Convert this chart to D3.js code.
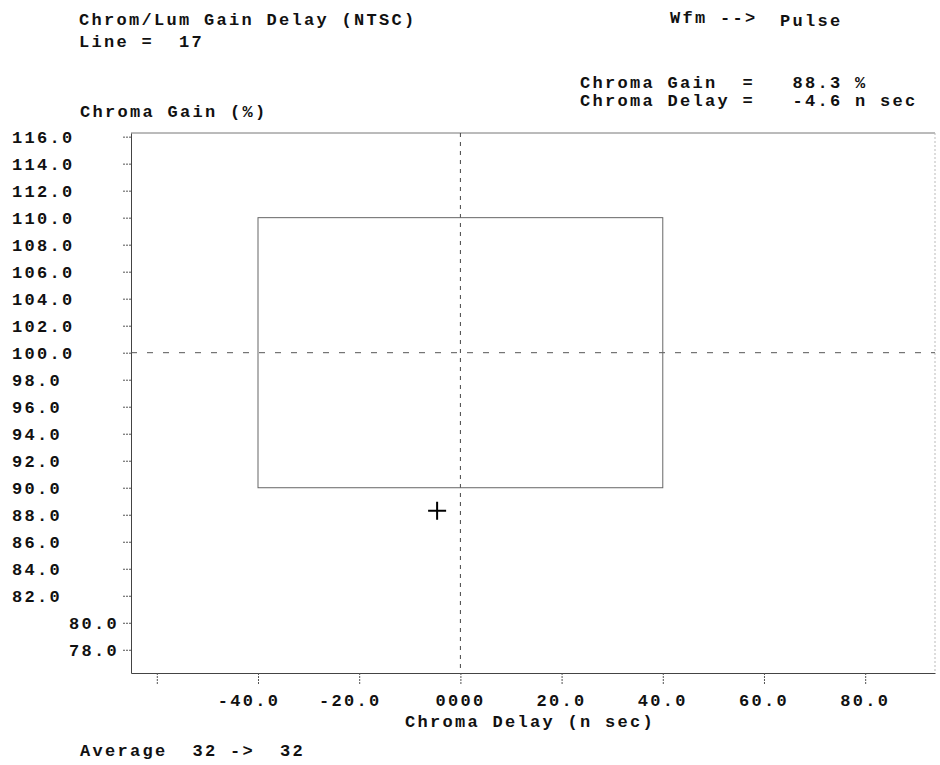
<!DOCTYPE html>
<html><head><meta charset="utf-8">
<script src="https://cdn.jsdelivr.net/npm/d3@7"></script>
<style>
html,body{margin:0;padding:0;background:#fff;}
svg{display:block;}
text{font-family:"Liberation Mono","DejaVu Sans Mono",monospace;font-weight:bold;font-size:17px;letter-spacing:2.3px;fill:#111;white-space:pre;}
</style></head><body>
<svg id="chart" width="940" height="765"></svg>
<script>
// ---- data ----
const titleLines = ["Chrom/Lum Gain Delay (NTSC)", "Line =  17"];
const waveformText = ["Wfm -->", "Pulse"];
const readoutLines = ["Chroma Gain  =   88.3 %", "Chroma Delay =   -4.6 n sec"];
const yAxisTitle = "Chroma Gain (%)";
const xAxisTitle = "Chroma Delay (n sec)";
const footerText = "Average  32 ->  32";

const yTickValues = [116,114,112,110,108,106,104,102,100,98,96,94,92,90,88,86,84,82,80,78];
const yTickLabels = ["116.0","114.0","112.0","110.0","108.0","106.0","104.0","102.0","100.0","98.0","96.0","94.0","92.0","90.0","88.0","86.0","84.0","82.0","80.0","78.0"];
const xTickValues = [-60,-40,-20,0,20,40,60,80];
const xTickLabels = ["","-40.0","-20.0","0000","20.0","40.0","60.0","80.0"];

const limitDelay = [-40, 40];
const limitGain = [90, 110];
const referenceDelay = [0];
const referenceGain = [100];
const measuredDelay = [-4.6];
const measuredGain = [88.3];

// ---- layout ----
const svg = d3.select("#chart");
const plot = {left:131, right:935, top:133, bottom:673};
const x = d3.scaleLinear().domain([-65.1, 93.8]).range([plot.left, plot.right]);
const y = d3.scaleLinear().domain([76.28, 116.27]).range([plot.bottom, plot.top]);

// header texts
svg.selectAll("text.title").data(titleLines).join("text")
  .attr("class","title").attr("x",79).attr("y",(d,i)=>25+i*22).text(d=>d);
svg.append("text").attr("x",670).attr("y",23).text(waveformText[0]);
svg.append("text").attr("x",780).attr("y",26).text(waveformText[1]);
svg.selectAll("text.readout").data(readoutLines).join("text")
  .attr("class","readout").attr("x",580).attr("y",(d,i)=>88+i*18).text(d=>d);
svg.append("text").attr("x",80).attr("y",117).text(yAxisTitle);

// frame top / right
svg.append("line").attr("x1",plot.left).attr("x2",plot.right).attr("y1",plot.top).attr("y2",plot.top)
  .attr("stroke","#777").attr("stroke-width",1);
svg.append("line").attr("x1",plot.right).attr("x2",plot.right).attr("y1",plot.top).attr("y2",plot.bottom)
  .attr("stroke","#bbb").attr("stroke-width",1).attr("stroke-dasharray","2,2");

// axes (tick marks + left/bottom frame)
const yAxis = d3.axisLeft(y).tickValues(yTickValues).tickSize(8).tickSizeOuter(0).tickFormat("");
const gy = svg.append("g").attr("transform",`translate(${plot.left},0)`).call(yAxis);
const xAxis = d3.axisBottom(x).tickValues(xTickValues).tickSize(11).tickSizeOuter(0).tickFormat("");
const gx = svg.append("g").attr("transform",`translate(0,${plot.bottom})`).call(xAxis);
[gx, gy].forEach(g=>{
  g.selectAll("path.domain").attr("stroke","#444").attr("stroke-width",1);
  g.selectAll(".tick line").attr("stroke","#555").attr("stroke-width",1).attr("stroke-dasharray","2,1");
});

// y tick labels (last two sit right next to the axis)
svg.selectAll("text.ylab").data(yTickValues).join("text")
  .attr("class","ylab")
  .attr("x",(d,i)=> d<=80 ? 119 : 12)
  .attr("text-anchor",(d)=> d<=80 ? "end" : "start")
  .attr("y",d=>y(d)+6)
  .text((d,i)=>yTickLabels[i]);

// x tick labels
svg.selectAll("text.xlab").data(xTickValues).join("text")
  .attr("class","xlab")
  .attr("x",d=> x(d) + (d<0 ? -9 : 0))
  .attr("text-anchor","middle")
  .attr("y",706)
  .text((d,i)=>xTickLabels[i]);

svg.append("text").attr("x",405).attr("y",727).text(xAxisTitle);
svg.append("text").attr("x",80).attr("y",756).text(footerText);

// reference dashed lines
svg.selectAll("line.refx").data(referenceDelay).join("line").attr("class","refx")
  .attr("x1",d=>x(d)).attr("x2",d=>x(d)).attr("y1",plot.top).attr("y2",plot.bottom)
  .attr("stroke","#444").attr("stroke-width",1).attr("stroke-dasharray","4,5");
svg.selectAll("line.refy").data(referenceGain).join("line").attr("class","refy")
  .attr("x1",plot.left).attr("x2",plot.right).attr("y1",d=>y(d)).attr("y2",d=>y(d))
  .attr("stroke","#555").attr("stroke-width",1).attr("stroke-dasharray","6,10");

// limit box
svg.append("rect")
  .attr("x",x(limitDelay[0])).attr("y",y(limitGain[1]))
  .attr("width",x(limitDelay[1])-x(limitDelay[0]))
  .attr("height",y(limitGain[0])-y(limitGain[1]))
  .attr("fill","none").attr("stroke","#666").attr("stroke-width",1);

// measured point marker
svg.selectAll("path.pt").data(measuredDelay).join("path").attr("class","pt")
  .attr("transform",(d,i)=>`translate(${x(d)},${y(measuredGain[i])})`)
  .attr("d","M-9,0H9M0,-9V9")
  .attr("stroke","#000").attr("stroke-width",2).attr("fill","none");
</script>
</body></html>
